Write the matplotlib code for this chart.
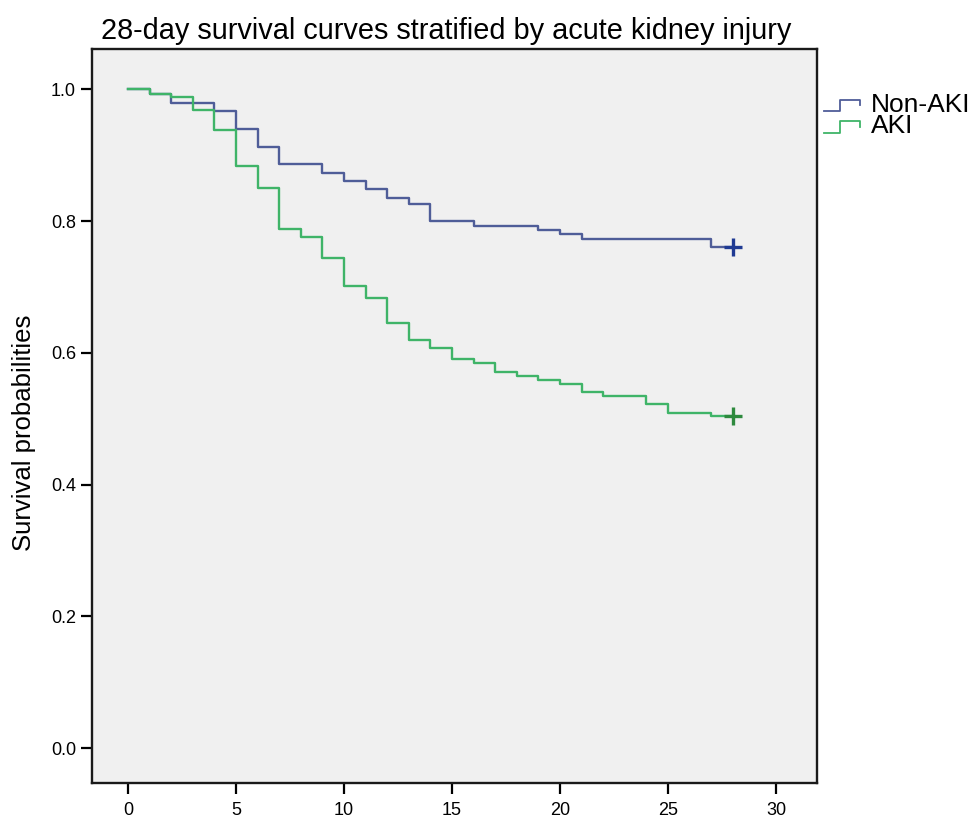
import numpy as np
import matplotlib
matplotlib.use('Agg')
from matplotlib import pyplot as plt
from matplotlib.legend_handler import HandlerBase
from matplotlib.lines import Line2D

#-------------------------------------------------------------------------------
# data
#-------------------------------------------------------------------------------

nonaki_days = [0, 1, 2, 4, 5, 6, 7, 9, 10, 11, 12, 13, 14, 16, 19, 20, 21, 27, 28]
nonaki_surv = [1.0, 0.993, 0.979, 0.967, 0.940, 0.912, 0.886, 0.873, 0.860,
               0.848, 0.835, 0.826, 0.800, 0.793, 0.787, 0.780, 0.773, 0.760,
               0.760]

aki_days = [0, 1, 2, 3, 4, 5, 6, 7, 8, 9, 10, 11, 12, 13, 14, 15, 16, 17, 18,
            19, 20, 21, 22, 24, 25, 27, 28]
aki_surv = [1.0, 0.993, 0.988, 0.969, 0.938, 0.883, 0.850, 0.788, 0.776, 0.744,
            0.701, 0.683, 0.645, 0.620, 0.607, 0.590, 0.584, 0.571, 0.565,
            0.559, 0.552, 0.541, 0.534, 0.522, 0.509, 0.504, 0.504]

group_names = ['Non-AKI', 'AKI']
x_ticks = [0, 5, 10, 15, 20, 25, 30]
y_ticks = [0.0, 0.2, 0.4, 0.6, 0.8, 1.0]

line_cols = ['#4f5d98', '#3fb468']
mark_cols = ['#1f3a93', '#2e8a3e']

plt.rcParams['font.family'] = ['Liberation Sans', 'DejaVu Sans']

#-------------------------------------------------------------------------------
# step shaped legend keys
#-------------------------------------------------------------------------------

class StepHandler(HandlerBase):
  def create_artists(self, legend, orig, xd, yd, w, h, fontsize, trans):
    xs = [xd, xd + 0.45*w, xd + 0.45*w, xd + w, xd + w]
    ys = [yd + 0.05*h, yd + 0.05*h, yd + 0.65*h, yd + 0.65*h, yd + 0.35*h]
    ln = Line2D(xs, ys, color=orig.get_color(), lw=1.3, transform=trans)
    return [ln]

#-------------------------------------------------------------------------------
# plot
#-------------------------------------------------------------------------------

fig = plt.figure(figsize=(9.75, 8.18), dpi=100)
ax = fig.add_axes([0.0944, 0.0428, 0.7436, 0.8972])
ax.set_facecolor('#f0f0f0')

handles = []
for days, surv, lc, mc in zip([nonaki_days, aki_days], [nonaki_surv, aki_surv],
                              line_cols, mark_cols):
  h, = ax.step(days, surv, where='post', color=lc, lw=1.7)
  ax.plot(days[-1], surv[-1], '+', color=mc, ms=13, mew=2.4)
  handles.append(h)

ax.set_xlim(-1.67, 31.9)
ax.set_ylim(-0.053, 1.061)
ax.set_xticks(x_ticks)
ax.set_yticks(y_ticks)
ax.set_yticklabels(['%.1f' % v for v in y_ticks])
ax.tick_params(axis='x', pad=6)
ax.tick_params(direction='out', length=8, width=1.6, color='k', labelsize=13)
for s in ax.spines.values():
  s.set_linewidth(1.7)
  s.set_color('#1a1a1a')

ax.set_ylabel('Survival probabilities', fontsize=18.5)
ax.yaxis.set_label_coords(-0.077, 0.477)
fig.text(0.458, 0.962, '28-day survival curves stratified by acute kidney injury',
         ha='center', va='center', fontsize=20.8)

leg = fig.legend(handles, group_names, loc='upper left',
                 bbox_to_anchor=(0.832, 0.903), frameon=False, borderpad=0,
                 handler_map={Line2D: StepHandler()}, handlelength=1.35,
                 handletextpad=0.4, labelspacing=-0.08, fontsize=19)

fig.savefig('out.png', dpi=100)
